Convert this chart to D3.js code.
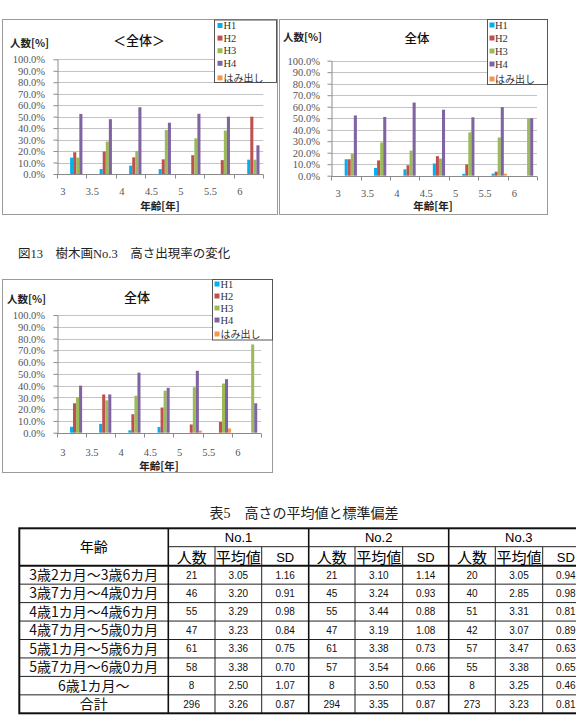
<!DOCTYPE html>
<html><head><meta charset="utf-8">
<script src="https://cdn.jsdelivr.net/npm/d3@7"></script>
<style>body{margin:0;background:#fff} svg{display:block}</style>
</head><body><svg id="c" width="576" height="726"></svg>
<script>
// ---------- data ----------
const categories = ["3歳2カ月～3歳6カ月","3歳7カ月～4歳0カ月","4歳1カ月～4歳6カ月","4歳7カ月～5歳0カ月","5歳1カ月～5歳6カ月","5歳7カ月～6歳0カ月","6歳1カ月～"];
const ageTicks = ["3","3.5","4","4.5","5","5.5","6"];
const seriesNames = ["H1","H2","H3","H4","はみ出し"];
const seriesColors = ["#00B0F0","#C0504D","#9BBB59","#8064A2","#F79646"];
const yTicks = [0,10,20,30,40,50,60,70,80,90,100];

// chart 1 (＜全体＞) values in %
const c1H1 = [14.3, 4.3, 7.3, 4.3, 0, 0, 12.5];
const c1H2 = [19.0, 19.6, 14.5, 12.8, 16.4, 12.1, 50.0];
const c1H3 = [14.3, 28.3, 20.0, 38.3, 31.1, 37.9, 12.5];
const c1H4 = [52.4, 47.8, 58.2, 44.7, 52.5, 50.0, 25.0];
const c1H5 = [0, 0, 0, 0, 0, 0, 0];
// chart 2 (全体, right)
const c2H1 = [14.3, 6.7, 5.5, 10.6, 1.6, 1.8, 0];
const c2H2 = [14.3, 13.3, 9.1, 17.0, 9.8, 3.5, 0];
const c2H3 = [19.0, 28.9, 21.8, 14.9, 37.7, 33.3, 50.0];
const c2H4 = [52.4, 51.1, 63.6, 57.4, 50.8, 59.6, 50.0];
const c2H5 = [0, 0, 0, 0, 0, 1.8, 0];
// chart 3 (全体, No.3)
const c3H1 = [5.0, 7.5, 2.0, 4.8, 0, 0, 0];
const c3H2 = [25.0, 32.5, 15.7, 21.4, 7.0, 9.1, 0];
const c3H3 = [30.0, 27.5, 31.4, 35.7, 38.6, 41.8, 75.0];
const c3H4 = [40.0, 32.5, 51.0, 38.1, 52.6, 45.5, 25.0];
const c3H5 = [0, 0, 0, 0, 1.8, 3.6, 0];

// table data
const tableRows = categories.concat(["合計"]);
const no1N = ["21","46","55","47","61","58","8","296"];
const no1Mean = ["3.05","3.20","3.29","3.23","3.36","3.38","2.50","3.26"];
const no1SD = ["1.16","0.91","0.98","0.84","0.75","0.70","1.07","0.87"];
const no2N = ["21","45","55","47","61","57","8","294"];
const no2Mean = ["3.10","3.24","3.44","3.19","3.38","3.54","3.50","3.35"];
const no2SD = ["1.14","0.93","0.88","1.08","0.73","0.66","0.53","0.87"];
const no3N = ["20","40","51","42","57","55","8","273"];
const no3Mean = ["3.05","2.85","3.31","3.07","3.47","3.38","3.25","3.23"];
const no3SD = ["0.94","0.98","0.81","0.89","0.63","0.65","0.46","0.81"];

// ---------- drawing ----------
const svg = d3.select("#c");
svg.append("rect").attr("width",576).attr("height",726).attr("fill","#fff");

const CJK = "'Noto Sans CJK JP', sans-serif";
const SERIF = "'Liberation Serif', 'DejaVu Serif', 'Noto Sans CJK JP', serif";
const SANS = "'Liberation Sans', Arial, sans-serif";

function drawChart(cfg, values) {
  const g = svg.append("g");
  const f = cfg.frame;
  g.append("rect").attr("x",f[0]).attr("y",f[1]).attr("width",f[2]-f[0]).attr("height",f[3]-f[1])
    .attr("fill","#fff").attr("stroke","#9a9a9a").attr("stroke-width",1);

  const x = d3.scaleBand().domain(categories).range([cfg.left, cfg.right]).padding(0);
  const bw = x.bandwidth();
  const sub = d3.scaleBand().domain(seriesNames).range([bw*0.455, bw*0.975]).padding(0);
  const y = d3.scaleLinear().domain([0,100]).range([cfg.bottom, cfg.top]);

  // gridlines
  g.selectAll(".grid").data(yTicks.filter(t=>t>0)).enter().append("line")
    .attr("x1",cfg.left).attr("x2",cfg.right)
    .attr("y1",d=>Math.round(y(d))+0.5).attr("y2",d=>Math.round(y(d))+0.5)
    .attr("stroke","#c4c4c4").attr("stroke-width",1);

  // y axis
  const yAxis = d3.axisLeft(y).tickValues(yTicks).tickSize(4).tickSizeOuter(0)
    .tickFormat(d=>d3.format(".1f")(d)+"%");
  const ya = g.append("g").attr("transform",`translate(${Math.round(cfg.left)+0.5},0)`).call(yAxis);
  ya.attr("font-family",null).attr("font-size",null);
  ya.select(".domain").attr("stroke","#8a8a8a");
  ya.selectAll(".tick line").attr("stroke","#8a8a8a");
  ya.selectAll(".tick text").style("font-family",SERIF).style("font-size","10.5px")
    .attr("fill","#555").attr("x",-(cfg.left-cfg.ytickRight)).attr("dy","0.35em");

  // bars
  values.forEach((vals, si) => {
    g.selectAll(null).data(vals.map((v,i)=>({v, c:categories[i]}))).enter().append("rect")
      .attr("x", d => x(d.c) + sub(seriesNames[si]))
      .attr("width", sub.bandwidth())
      .attr("y", d => y(d.v))
      .attr("height", d => y(0) - y(d.v))
      .attr("fill", seriesColors[si]);
  });

  // x axis
  const xb = Math.round(cfg.bottom)+0.5;
  g.append("line").attr("x1",cfg.left).attr("x2",cfg.right).attr("y1",xb).attr("y2",xb)
    .attr("stroke","#8a8a8a");
  const bounds = categories.map(c=>x(c)).concat([cfg.right]);
  g.selectAll(null).data(bounds).enter().append("line")
    .attr("x1",d=>Math.round(d)+0.5).attr("x2",d=>Math.round(d)+0.5)
    .attr("y1",xb).attr("y2",xb+4).attr("stroke","#8a8a8a");
  g.selectAll(null).data(ageTicks).enter().append("text")
    .attr("x",(d,i)=>x(categories[i]) + bw*cfg.labelOff)
    .attr("y",cfg.xlabelY).attr("text-anchor","middle")
    .style("font-family",SERIF).style("font-size","10.5px").attr("fill","#555").text(d=>d);

  // titles
  g.append("text").attr("x",cfg.titleX).attr("y",cfg.titleY).attr("text-anchor","middle")
    .style("font-family",CJK).style("font-size",cfg.titleSize+"px").attr("font-weight",500).attr("fill","#111").text(cfg.title);
  g.append("text").attr("x",cfg.ytitleX).attr("y",cfg.ytitleY)
    .style("font-family",CJK).style("font-size","10.5px").attr("font-weight",700).attr("fill","#222").text("人数[%]");
  g.append("text").attr("x",cfg.xtitleX).attr("y",cfg.xtitleY).attr("text-anchor","middle")
    .style("font-family",CJK).style("font-size","10.5px").attr("font-weight",700).attr("fill","#222").text("年齢[年]");

  // legend
  const L = cfg.legend;
  g.append("rect").attr("x",L[0]).attr("y",L[1]).attr("width",L[2]-L[0]).attr("height",L[3]-L[1])
    .attr("fill","#fff").attr("stroke","#555").attr("stroke-width",1);
  const items = g.selectAll(null).data(seriesNames).enter().append("g")
    .attr("transform",(d,i)=>`translate(0,${cfg.legFirst + i*cfg.legStep + (i===4 ? 2 : 0)})`);
  items.append("rect").attr("x",cfg.legSqX).attr("y",-2.5).attr("width",5).attr("height",5)
    .attr("fill",(d,i)=>seriesColors[i]);
  items.append("text").attr("x",cfg.legTextX).attr("y",0).attr("dy","0.36em")
    .style("font-family",(d,i)=> i<4 ? SERIF : CJK).style("font-size",(d,i)=> i<4 ? "10.5px" : "10px")
    .attr("fill","#333").text(d=>d);
}

drawChart({
  frame:[2.5,19.5,277.5,214.5], left:56.7, right:263.3, top:59.3, bottom:174,
  ytickRight:44.3, labelOff:0.21, xlabelY:195,
  title:"＜全体＞", titleX:139, titleY:45, titleSize:13,
  ytitleX:10, ytitleY:47, xtitleX:160, xtitleY:209.5,
  legend:[214.5,20,276.5,82.5], legFirst:25.5, legStep:12.6, legSqX:217.5, legTextX:223.5
}, [c1H1,c1H2,c1H3,c1H4,c1H5]);

drawChart({
  frame:[279.5,19.5,547.5,214.5], left:331.3, right:537, top:60.7, bottom:175.7,
  ytickRight:319.7, labelOff:0.23, xlabelY:196.5,
  title:"全体", titleX:417, titleY:43, titleSize:12.5,
  ytitleX:283, ytitleY:41, xtitleX:433, xtitleY:209.5,
  legend:[487.5,19.5,547.5,84.5], legFirst:25, legStep:13, legSqX:489.5, legTextX:495
}, [c2H1,c2H2,c2H3,c2H4,c2H5]);

drawChart({
  frame:[2.5,279.5,272.5,472.5], left:56.7, right:261, top:315, bottom:432.7,
  ytickRight:44.3, labelOff:0.21, xlabelY:455.5,
  title:"全体", titleX:137, titleY:301.5, titleSize:13,
  ytitleX:7, ytitleY:302.5, xtitleX:159, xtitleY:469.5,
  legend:[212.5,279.5,272.5,340], legFirst:284, legStep:12, legSqX:214.5, legTextX:220.5
}, [c3H1,c3H2,c3H3,c3H4,c3H5]);

// captions
svg.append("text").attr("x",18).attr("y",257.5).style("font-family",SERIF).style("font-size","12.5px")
  .attr("fill","#222").text("図13　樹木画No.3　高さ出現率の変化");
svg.append("text").attr("x",304).attr("y",518).attr("text-anchor","middle").style("font-family",SERIF).style("font-size","14px")
  .attr("fill","#222").text("表5　高さの平均値と標準偏差");

// ---------- table ----------
const T = svg.append("g");
const colX = [19.3,168.3,215,261.7,308.7,355,402.7,448.7,495.3,542.7,589];
const rowTop = 528.3, head1 = 546.7, head2 = 565.7, rowH = 18.45;
const rowY = d3.range(tableRows.length+1).map(i=>head2 + i*rowH);
const tBottom = rowY[rowY.length-1];
const groups = [["No.1",no1N,no1Mean,no1SD],["No.2",no2N,no2Mean,no2SD],["No.3",no3N,no3Mean,no3SD]];

T.append("line").attr("x1",colX[1]).attr("x2",576).attr("y1",head1).attr("y2",head1).attr("stroke","#222").attr("stroke-width",1);
T.append("line").attr("x1",colX[0]).attr("x2",576).attr("y1",head2).attr("y2",head2).attr("stroke","#111").attr("stroke-width",2);
rowY.slice(1,-1).forEach(yy=>{
  T.append("line").attr("x1",colX[0]).attr("x2",576).attr("y1",yy).attr("y2",yy).attr("stroke","#222").attr("stroke-width",1);
});
[2,3,5,6,8,9].forEach(ci=>{
  T.append("line").attr("x1",colX[ci]).attr("x2",colX[ci]).attr("y1",head1).attr("y2",tBottom).attr("stroke","#222").attr("stroke-width",1);
});
[1,4,7].forEach(ci=>{
  T.append("line").attr("x1",colX[ci]).attr("x2",colX[ci]).attr("y1",rowTop).attr("y2",tBottom).attr("stroke","#111").attr("stroke-width",1.6);
});
T.append("rect").attr("x",colX[0]).attr("y",rowTop).attr("width",colX[10]-colX[0]).attr("height",tBottom-rowTop)
  .attr("fill","none").attr("stroke","#111").attr("stroke-width",2);

T.append("text").attr("x",(colX[0]+colX[1])/2).attr("y",(rowTop+head2)/2).attr("dy","0.36em").attr("text-anchor","middle")
  .style("font-family",CJK).style("font-size","14px").text("年齢");
groups.forEach((gr,gi)=>{
  const c0 = colX[1+gi*3];
  T.append("text").attr("x",(c0+colX[4+gi*3])/2).attr("y",(rowTop+head1)/2).attr("dy","0.36em").attr("text-anchor","middle")
    .style("font-family",SANS).style("font-size","13px").text(gr[0]);
  ["人数","平均値","SD"].forEach((h,k)=>{
    T.append("text").attr("x",(colX[1+gi*3+k]+colX[2+gi*3+k])/2).attr("y",(head1+head2)/2+1).attr("dy","0.36em")
      .attr("text-anchor","middle").style("font-family",h==="SD"?SANS:CJK).style("font-size",h==="SD"?"13px":"15px").text(h);
  });
  [gr[1],gr[2],gr[3]].forEach((arr,k)=>{
    T.selectAll(null).data(arr).enter().append("text")
      .attr("x",(colX[1+gi*3+k]+colX[2+gi*3+k])/2)
      .attr("y",(d,i)=>(rowY[i]+rowY[i+1])/2).attr("dy","0.36em").attr("text-anchor","middle")
      .style("font-family",SANS).style("font-size","10px").attr("fill","#111").text(d=>d);
  });
});
T.selectAll(null).data(tableRows).enter().append("text")
  .attr("x",(colX[0]+colX[1])/2).attr("y",(d,i)=>(rowY[i]+rowY[i+1])/2).attr("dy","0.36em").attr("text-anchor","middle")
  .style("font-family",CJK).style("font-size","14px").attr("fill","#111").text(d=>d);
</script></body></html>
